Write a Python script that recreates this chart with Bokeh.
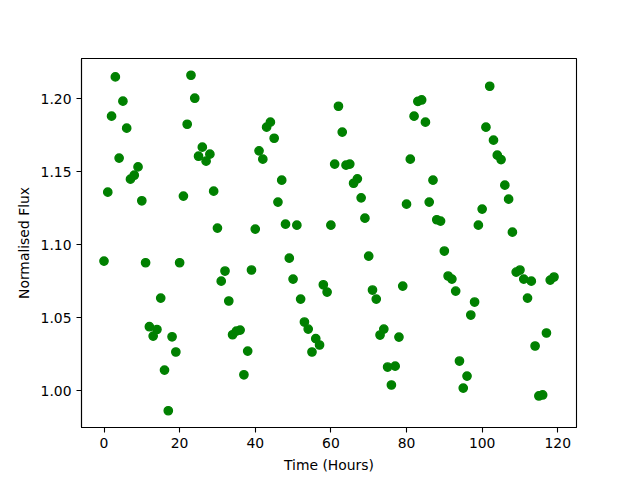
from bokeh.plotting import figure
from bokeh.models import FixedTicker, Range1d, NumeralTickFormatter
from bokeh.embed import file_html
from bokeh.resources import INLINE

hours = list(range(120))
flux = [
    1.0887, 1.1359, 1.1879, 1.2148, 1.1592, 1.1982, 1.1797, 1.1448, 1.1475, 1.1532,
    1.1300, 1.0876, 1.0438, 1.0374, 1.0419, 1.0634, 1.0141, 0.9863, 1.0369, 1.0265,
    1.0876, 1.1332, 1.1824, 1.2159, 1.2002, 1.1605, 1.1667, 1.1571, 1.1619, 1.1366,
    1.1113, 1.0750, 1.0819, 1.0614, 1.0383, 1.0408, 1.0415, 1.0109, 1.0271, 1.0826,
    1.1106, 1.1642, 1.1585, 1.1804, 1.1838, 1.1728, 1.1291, 1.1441, 1.1140, 1.0907,
    1.0764, 1.1133, 1.0627, 1.0470, 1.0422, 1.0265, 1.0356, 1.0313, 1.0725, 1.0675,
    1.1133, 1.1551, 1.1947, 1.1770, 1.1544, 1.1551, 1.1420, 1.1450, 1.1320, 1.1181,
    1.0921, 1.0689, 1.0627, 1.0381, 1.0422, 1.0162, 1.0039, 1.0168, 1.0367, 1.0716,
    1.1277, 1.1585, 1.1879, 1.1980, 1.1990, 1.1838, 1.1291, 1.1441, 1.1170, 1.1161,
    1.0956, 1.0785, 1.0764, 1.0682, 1.0203, 1.0018, 1.0100, 1.0518, 1.0607, 1.1133,
    1.1243, 1.1804, 1.2084, 1.1715, 1.1612, 1.1582, 1.1407, 1.1311, 1.1085, 1.0812,
    1.0826, 1.0764, 1.0634, 1.0750, 1.0306, 0.9964, 0.9971, 1.0395, 1.0757, 1.0778,
]
x_ticks = [0, 20, 40, 60, 80, 100, 120]
y_ticks = [1.00, 1.05, 1.10, 1.15, 1.20]
x_label = "Time (Hours)"
y_label = "Normalised Flux"

xmin, xmax = min(hours), max(hours)
ymin, ymax = min(flux), max(flux)
xm = (xmax - xmin) * 0.05
ym = (ymax - ymin) * 0.05

p = figure(
    frame_width=495, frame_height=369,
    min_border_left=81, min_border_right=56,
    min_border_top=58, min_border_bottom=45,
    output_backend="svg", toolbar_location=None,
    x_range=Range1d(xmin - xm, xmax + xm),
    y_range=Range1d(ymin - ym, ymax + ym),
)
p.background_fill_color = "white"
p.border_fill_color = "white"
p.outline_line_color = "black"
p.outline_line_width = 1.1
p.xgrid.visible = False
p.ygrid.visible = False

p.scatter(hours, flux, size=8.3, fill_color="#008000", line_color="#008000", line_width=1.4)

font = "DejaVu Sans"
for ax in (p.xaxis[0], p.yaxis[0]):
    ax.major_label_text_font = font
    ax.major_label_text_font_size = "13.9px"
    ax.major_label_text_color = "black"
    ax.axis_label_text_font = font
    ax.axis_label_text_font_size = "13.9px"
    ax.axis_label_text_font_style = "normal"
    ax.axis_label_text_color = "black"
    ax.axis_line_color = "black"
    ax.axis_line_width = 1.1
    ax.major_tick_line_color = "black"
    ax.major_tick_line_width = 1.1
    ax.major_tick_in = 0
    ax.major_tick_out = 5
    ax.minor_tick_line_color = None
    ax.major_label_standoff = 5
    ax.axis_label_standoff = 6

p.xaxis[0].ticker = FixedTicker(ticks=x_ticks)
p.yaxis[0].ticker = FixedTicker(ticks=y_ticks)
p.yaxis[0].formatter = NumeralTickFormatter(format="0.00")
p.xaxis[0].axis_label = x_label
p.yaxis[0].axis_label = y_label

open("out.html", "w").write(file_html(p, INLINE))
